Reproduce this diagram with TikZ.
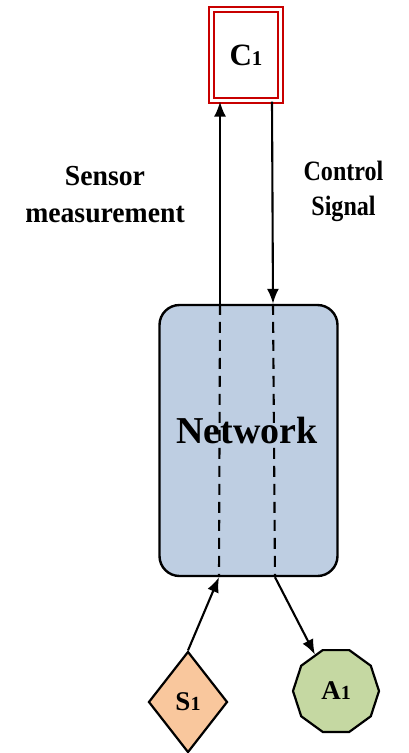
\documentclass[tikz,border=0pt]{standalone}
\usepackage{fontspec}
\setmainfont{Liberation Serif}
\usetikzlibrary{shapes.geometric,arrows.meta}
\definecolor{cred}{RGB}{200,0,0}
\definecolor{netblue}{RGB}{190,206,226}
\definecolor{speach}{RGB}{249,199,157}
\definecolor{agreen}{RGB}{197,216,162}
\tikzset{
  conn/.style={line width=2.1pt,-{Latex[length=15pt,width=12pt]}},
  dashline/.style={line width=2.1pt,dash pattern=on 11pt off 7pt},
  lbl/.style={inner sep=0pt,anchor=base},
}
\begin{document}
\begin{tikzpicture}[x=1pt,y=-1pt]
\useasboundingbox (0,0) rectangle (408,753);
% nodes
\node[draw=cred,line width=2.2pt,double=white,double distance=3pt,minimum width=69pt,minimum height=91pt,inner sep=0pt,font=\fontsize{31}{31}\selectfont\bfseries] (c1) at (246,55) {C{\fontsize{21}{21}\selectfont 1}};
\node[draw,fill=netblue,line width=2.4pt,rounded corners=20pt,minimum width=178pt,minimum height=271pt,inner sep=0pt] (net) at (248.5,440.5) {};
\node[inner sep=0pt,anchor=base,font=\fontsize{38}{38}\selectfont\bfseries] (nettxt) at (247,443) {Network};
\node[draw,fill=speach,diamond,line width=2.2pt,minimum width=79pt,minimum height=101pt,inner sep=0pt,font=\fontsize{27}{27}\selectfont\bfseries] (s1) at (188,702) {S{\fontsize{20}{20}\selectfont 1}};
\node[draw,fill=agreen,regular polygon,regular polygon sides=10,line width=2.2pt,minimum size=86pt,inner sep=0pt,font=\fontsize{27}{27}\selectfont\bfseries] (a1) at (336,691) {A{\fontsize{20}{20}\selectfont 1}};
% labels
\node[lbl] (lsens) at (105,185) {\fontsize{29}{37}\selectfont\bfseries\scalebox{0.955}[1]{\begin{tabular}[t]{@{}c@{}}Sensor\\measurement\end{tabular}}};
\node[lbl] (lctrl) at (343.5,180) {\fontsize{28}{35}\selectfont\bfseries\scalebox{0.86}[1]{\begin{tabular}[t]{@{}c@{}}Control\\Signal\end{tabular}}};
% coordinates
\coordinate (ntl) at (net.north -| 220,0);
\coordinate (nbl) at (net.south -| 219,0);
\coordinate (ntr) at (net.north -| 273,0);
\coordinate (nbr) at (net.south -| 275,0);
\coordinate (c1l) at (c1.south -| 220,0);
\coordinate (c1r) at (c1.south -| 272,0);
% connectors
\draw[conn] (ntl) -- (c1l);
\draw[conn] (c1r) -- (ntr);
\draw[dashline] (ntl) -- (nbl);
\draw[dashline] (ntr) -- (nbr);
\draw[conn] (s1.north) -- (nbl);
\draw[conn] (nbr) -- (a1.120);
\end{tikzpicture}
\end{document}
